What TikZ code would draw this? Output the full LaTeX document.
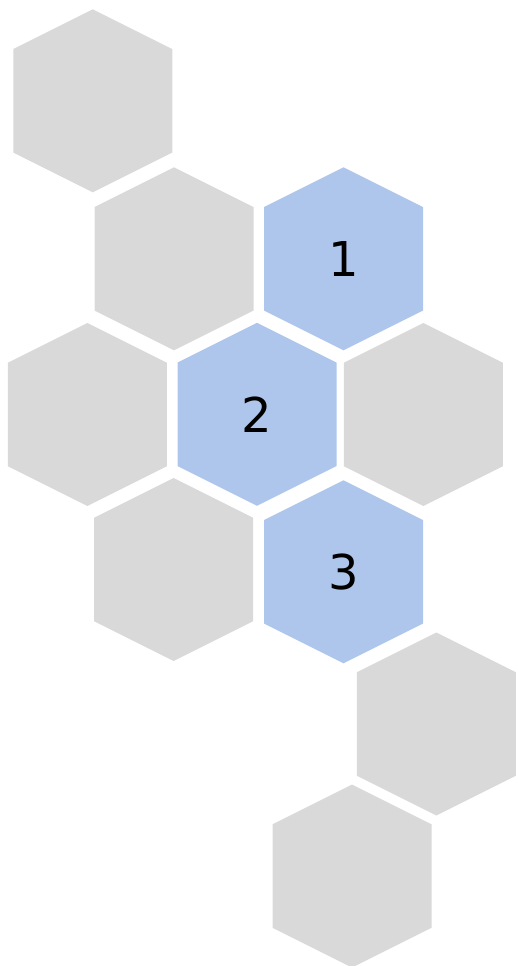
\documentclass[tikz,border=0pt]{standalone}
\usepackage{fontspec}
\setmainfont{DejaVu Sans}
\definecolor{hexgray}{HTML}{D9D9D9}
\definecolor{hexblue}{HTML}{AEC6EB}
\tikzset{
  graycell/.style={fill=hexgray, draw=none},
  bluecell/.style={fill=hexblue, draw=none},
  celllabel/.style={font=\fontsize{48}{58}\selectfont, text=black}
}
\begin{document}
\begin{tikzpicture}[x=1pt, y=-1pt]

\useasboundingbox (0,0) rectangle (518,966);

% -----------------------------
% Gray cells (centre x/y)
% -----------------------------
\foreach \x/\y in {92.8/100.8, 174/258.8, 87.3/414.5, 423.3/414.5,
                   173.7/569.5, 436.3/724, 352/876} {
    \fill[graycell] (\x,\y-91.5) -- (\x+79.5,\y-51.75) -- (\x+79.5,\y+51.75)
        -- (\x,\y+91.5) -- (\x-79.5,\y+51.75) -- (\x-79.5,\y-51.75) -- cycle;
}

% -----------------------------
% Blue cells with numbers
% -----------------------------
\foreach \x/\y/\n in {343.5/258.8/1, 257/414.3/2, 343.5/571.8/3} {
    \fill[bluecell] (\x,\y-91.5) -- (\x+79.5,\y-51.75) -- (\x+79.5,\y+51.75)
        -- (\x,\y+91.5) -- (\x-79.5,\y+51.75) -- (\x-79.5,\y-51.75) -- cycle;
    \node[celllabel] (cell\n) at (\x,\y) {\n};
}

\end{tikzpicture}
\end{document}
